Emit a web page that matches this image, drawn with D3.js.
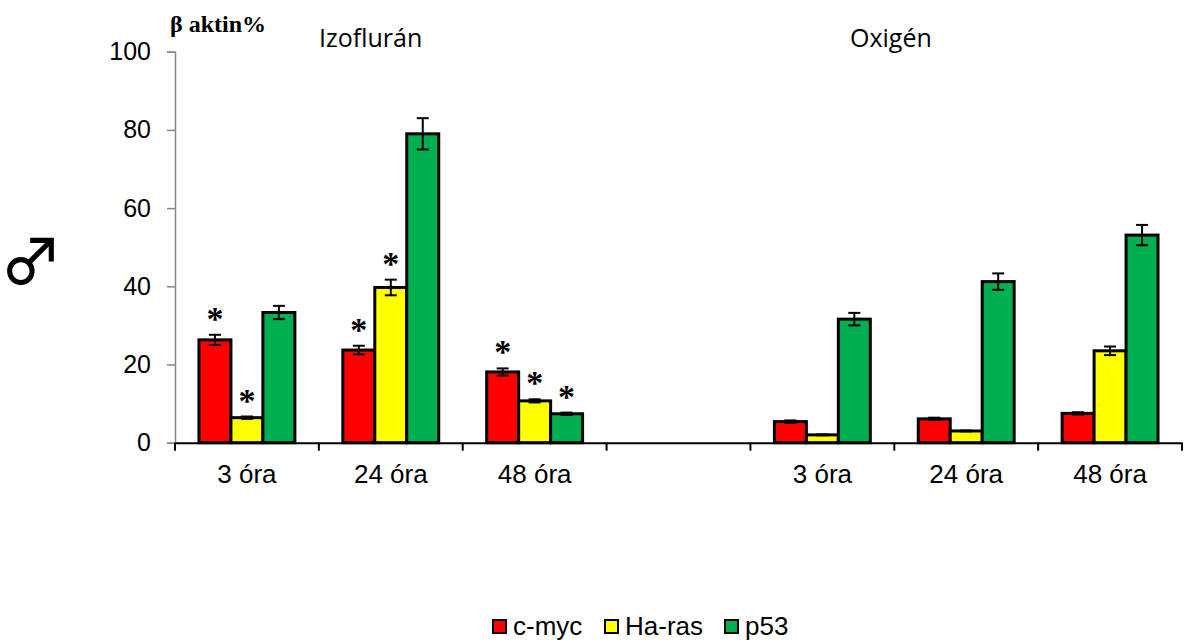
<!DOCTYPE html>
<html>
<head>
<meta charset="utf-8">
<script src="https://cdn.jsdelivr.net/npm/d3@7"></script>
<style>
  body { margin: 0; background: #fff; }
  text { fill: #000; }
</style>
</head>
<body>
<script>
// chart data
var categories = ["3 óra", "24 óra", "48 óra", "", "3 óra ", "24 óra ", "48 óra "];
var seriesNames = ["c-myc", "Ha-ras", "p53"];
var seriesColors = ["#ff0000", "#ffff00", "#00b050"];
var cmyc = [26.3, 23.7, 18.1, null, 5.4, 6.1, 7.5];
var haras = [6.4, 39.7, 10.7, null, 2.0, 3.0, 23.5];
var p53 = [33.3, 79.0, 7.4, null, 31.6, 41.2, 53.1];
var cmycErr = [1.3, 1.1, 0.9, null, 0.3, 0.3, 0.3];
var harasErr = [0.3, 2.0, 0.4, null, 0.1, 0.1, 1.1];
var p53Err = [1.7, 4.0, 0.3, null, 1.6, 2.1, 2.6];
// significance marks (asterisks)
var cmycSig = [true, true, true, false, false, false, false];
var harasSig = [true, true, true, false, false, false, false];
var p53Sig = [false, false, true, false, false, false, false];
var yTicks = [0, 20, 40, 60, 80, 100];

var values = [cmyc, haras, p53];
var errors = [cmycErr, harasErr, p53Err];
var sigs = [cmycSig, harasSig, p53Sig];

var width = 1188, height = 643;
var margin = {left: 175, right: 6, top: 52, bottom: 200};
var sansFont = "Liberation Sans, Arial, sans-serif";

var svg = d3.select("body").append("svg")
    .attr("width", width)
    .attr("height", height);

var x = d3.scaleBand()
    .domain(categories)
    .range([margin.left, 1182])
    .paddingInner(0)
    .paddingOuter(0);

// bars 32px wide, 24px gap on each side of a group
var xInner = d3.scaleBand()
    .domain(seriesNames)
    .range([0, x.bandwidth()])
    .paddingOuter(0.75)
    .paddingInner(0);

var y = d3.scaleLinear()
    .domain([0, 100])
    .range([442.7, 51.7]);

// build flat rows for drawing
var rows = [];
seriesNames.forEach(function(s, si) {
    categories.forEach(function(c, ci) {
        if (values[si][ci] == null) return;
        rows.push({series: s, si: si, cat: c, value: values[si][ci], err: errors[si][ci], sig: sigs[si][ci]});
    });
});

function barMid(d) {
    return x(d.cat) + xInner(d.series) + xInner.bandwidth() / 2;
}

// y axis
var yAxis = svg.append("g")
    .attr("transform", "translate(" + margin.left + ",0)")
    .call(d3.axisLeft(y).tickValues(yTicks).tickSize(8).tickPadding(16));
yAxis.select(".domain").attr("stroke", "#868686").attr("stroke-width", 1.5);
yAxis.selectAll(".tick line").attr("stroke", "#868686").attr("stroke-width", 1.5);
yAxis.selectAll("text")
    .style("font-family", sansFont)
    .style("font-size", "25px")
    .attr("fill", "#000");

// bars
svg.append("g").selectAll("rect")
    .data(rows)
    .join("rect")
    .attr("x", function(d) { return x(d.cat) + xInner(d.series); })
    .attr("y", function(d) { return y(d.value); })
    .attr("width", xInner.bandwidth())
    .attr("height", function(d) { return y(0) - y(d.value); })
    .attr("fill", function(d) { return seriesColors[d.si]; })
    .attr("stroke", "#000")
    .attr("stroke-width", 3);

// error bars
var eb = svg.append("g").selectAll("g")
    .data(rows)
    .join("g")
    .attr("stroke", "#000")
    .attr("stroke-width", 2);
eb.append("line")
    .attr("x1", barMid)
    .attr("x2", barMid)
    .attr("y1", function(d) { return y(d.value - d.err); })
    .attr("y2", function(d) { return y(d.value + d.err); });
[-1, 1].forEach(function(sign) {
    eb.append("line")
        .attr("x1", function(d) { return barMid(d) - 6; })
        .attr("x2", function(d) { return barMid(d) + 6; })
        .attr("y1", function(d) { return y(d.value + sign * d.err); })
        .attr("y2", function(d) { return y(d.value + sign * d.err); });
});

// asterisks
svg.append("g").selectAll("text")
    .data(rows.filter(function(d) { return d.sig; }))
    .join("text")
    .attr("x", barMid)
    .attr("y", function(d) { return y(d.value + d.err) - 5; })
    .attr("text-anchor", "middle")
    .style("font-family", "Liberation Serif, Times New Roman, serif")
    .style("font-weight", "bold")
    .style("font-size", "34px")
    .text("*");

// x axis
var xAxis = svg.append("g")
    .attr("transform", "translate(0," + y(0) + ")")
    .call(d3.axisBottom(x).tickSize(0).tickPadding(22));
xAxis.select(".domain").attr("stroke", "#000").attr("stroke-width", 2);
xAxis.selectAll("text")
    .style("font-family", sansFont)
    .style("font-size", "26px")
    .attr("fill", "#000")
    .text(function(d) { return d.trim(); });
// category boundary ticks
var bounds = categories.map(function(c) { return x(c); }).concat([x.range()[1]]);
xAxis.append("g").selectAll("line")
    .data(bounds)
    .join("line")
    .attr("x1", function(d) { return d; })
    .attr("x2", function(d) { return d; })
    .attr("y1", 0)
    .attr("y2", 8)
    .attr("stroke", "#000")
    .attr("stroke-width", 2);

// titles
svg.append("text")
    .attr("x", 170).attr("y", 32)
    .style("font-family", "Liberation Serif, Times New Roman, serif")
    .style("font-weight", "bold")
    .style("font-size", "24px")
    .text("β aktin%");

svg.append("text")
    .attr("x", 319).attr("y", 47)
    .style("font-family", "Open Sans, sans-serif")
    .style("font-size", "25px")
    .text("Izoflurán");

svg.append("text")
    .attr("x", 850).attr("y", 47)
    .style("font-family", "Open Sans, sans-serif")
    .style("font-size", "25px")
    .text("Oxigén");

svg.append("text")
    .attr("x", 0).attr("y", 285)
    .style("font-family", "Noto Sans CJK JP, DejaVu Sans, sans-serif")
    .style("font-weight", "500")
    .style("font-size", "62px")
    .text("♂");

// legend
var legendX = [493, 605, 725];
var legend = svg.append("g").selectAll("g")
    .data(seriesNames)
    .join("g")
    .attr("transform", function(d, i) { return "translate(" + legendX[i] + ",620)"; });
legend.append("rect")
    .attr("width", 13).attr("height", 13)
    .attr("fill", function(d, i) { return seriesColors[i]; })
    .attr("stroke", "#000")
    .attr("stroke-width", 2);
legend.append("text")
    .attr("x", 20).attr("y", 15)
    .style("font-family", sansFont)
    .style("font-size", "26px")
    .text(function(d) { return d; });
</script>
</body>
</html>
